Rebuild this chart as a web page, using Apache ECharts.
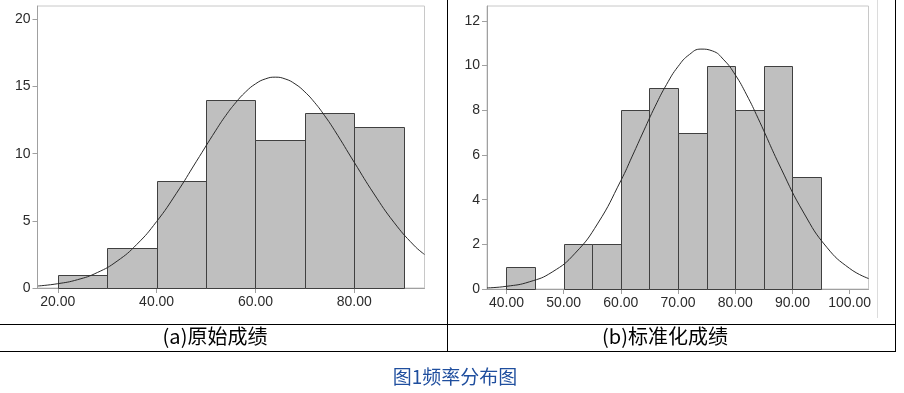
<!DOCTYPE html>
<html><head><meta charset="utf-8">
<script src="https://cdn.jsdelivr.net/npm/echarts@6/dist/echarts.min.js"></script>
<style>html,body{margin:0;padding:0;background:#fff}#c{width:904px;height:393px}</style>
</head><body><div id="c"></div>
<script>
// ---- Data ----
// (a) raw scores
const binStartsA = [20, 30, 40, 50, 60, 70, 80];
const countsA = [1, 3, 8, 14, 11, 13, 12];
const binWidthA = 10;
const curveXA = [16, 20, 24, 28, 32, 36, 40, 44, 48, 52, 54, 56, 58, 60, 62, 64, 66, 68, 70, 72, 74, 76, 80, 84, 88, 92, 94.2];
const curveYA = [0.15, 0.32, 0.62, 1.15, 2.0, 3.25, 4.95, 7.05, 9.4, 11.75, 12.85, 13.8, 14.6, 15.2, 15.57, 15.7, 15.57, 15.2, 14.6, 13.8, 12.83, 11.74, 9.35, 7.0, 4.9, 3.2, 2.5];
const xTicksA = [20, 40, 60, 80];
const yTicksA = [0, 5, 10, 15, 20];
// (b) standardized scores
const binStartsB = [40, 45, 50, 55, 60, 65, 70, 75, 80, 85, 90];
const countsB = [1, 0, 2, 2, 8, 9, 7, 10, 8, 10, 5];
const binWidthB = 5;
const curveXB = [36.6, 40, 44, 48, 52, 56, 60, 62, 64, 66, 68, 70, 72, 74, 76, 78, 80, 82, 84, 88, 92, 96, 100, 103.3];
const curveYB = [0.05, 0.12, 0.32, 0.76, 1.6, 2.95, 4.85, 5.95, 7.08, 8.18, 9.16, 9.96, 10.5, 10.74, 10.66, 10.26, 9.59, 8.69, 7.64, 5.4, 3.4, 1.87, 0.92, 0.47];
const xTicksB = [40, 50, 60, 70, 80, 90, 100];
const yTicksB = [0, 2, 4, 6, 8, 10, 12];
// texts
const captionA = '(a)原始成绩';
const captionB = '(b)标准化成绩';
const figTitle = '图1频率分布图';

// ---- Build ----
function bars(starts, counts, w) {
  return starts.map((s, i) => [s, s + w, counts[i]]);
}
function pairs(xs, ys) { return xs.map((x, i) => [x, ys[i]]); }

function renderBar(params, api) {
  const x0 = api.value(0), x1 = api.value(1), y = api.value(2);
  if (y <= 0) return null;
  const p0 = api.coord([x0, y]);
  const p1 = api.coord([x1, 0]);
  const l = Math.round(p0[0]) + 0.5, r = Math.round(p1[0]) + 0.5;
  const t = Math.round(p0[1]) + 0.5, b = Math.round(p1[1]) + 0.5;
  return {
    type: 'rect',
    shape: { x: l, y: t, width: r - l, height: b - t },
    style: { fill: '#bfbfbf', stroke: '#404040', lineWidth: 1 }
  };
}

const font = '"Liberation Sans", Arial, sans-serif';
function xAxis(idx, min, max, ticks) {
  return {
    gridIndex: idx, type: 'value', min: min, max: max,
    axisLine: { show: true, onZero: false, lineStyle: { color: '#a0a0a0', width: 1 } },
    axisTick: { show: true, length: 5, customValues: ticks, lineStyle: { color: '#a0a0a0' } },
    axisLabel: { customValues: ticks, formatter: v => v.toFixed(2), color: '#2b2b2b', fontSize: 14, fontFamily: font, margin: 7 },
    splitLine: { show: false }
  };
}
function yAxis(idx, max, ticks) {
  return {
    gridIndex: idx, type: 'value', min: 0, max: max,
    axisLine: { show: true, lineStyle: { color: '#a0a0a0', width: 1 } },
    axisTick: { show: true, length: 5, customValues: ticks, lineStyle: { color: '#a0a0a0' } },
    axisLabel: { customValues: ticks, color: '#2b2b2b', fontSize: 14, fontFamily: font, margin: 7 },
    splitLine: { show: false }
  };
}

const chart = echarts.init(document.getElementById('c'));
chart.setOption({
  animation: false,
  backgroundColor: '#fff',
  grid: [
    { left: 37.5, top: 6, width: 387, height: 282, show: true, borderColor: '#c8c8c8', borderWidth: 1, backgroundColor: 'transparent' },
    { left: 487, top: 6, width: 381.5, height: 283, show: true, borderColor: '#c8c8c8', borderWidth: 1, backgroundColor: 'transparent' }
  ],
  xAxis: [xAxis(0, 15.9, 94.2, xTicksA), xAxis(1, 36.6, 103.3, xTicksB)],
  yAxis: [yAxis(0, 21, yTicksA), yAxis(1, 12.67, yTicksB)],
  series: [
    { type: 'custom', xAxisIndex: 0, yAxisIndex: 0, renderItem: renderBar, data: bars(binStartsA, countsA, binWidthA), encode: { x: [0, 1], y: 2 }, silent: true },
    { type: 'line', xAxisIndex: 0, yAxisIndex: 0, data: pairs(curveXA, curveYA), smooth: true, symbol: 'none', lineStyle: { color: '#2a2a2a', width: 1 }, silent: true, z: 5 },
    { type: 'custom', xAxisIndex: 1, yAxisIndex: 1, renderItem: renderBar, data: bars(binStartsB, countsB, binWidthB), encode: { x: [0, 1], y: 2 }, silent: true },
    { type: 'line', xAxisIndex: 1, yAxisIndex: 1, data: pairs(curveXB, curveYB), smooth: true, symbol: 'none', lineStyle: { color: '#2a2a2a', width: 1 }, silent: true, z: 5 }
  ],
  graphic: [
    { type: 'line', shape: { x1: 0, y1: 324.5, x2: 896, y2: 324.5 }, style: { stroke: '#000', lineWidth: 1 } },
    { type: 'line', shape: { x1: 0, y1: 351.5, x2: 896, y2: 351.5 }, style: { stroke: '#000', lineWidth: 1 } },
    { type: 'line', shape: { x1: 447.5, y1: 0, x2: 447.5, y2: 351.5 }, style: { stroke: '#000', lineWidth: 1 } },
    { type: 'line', shape: { x1: 895.5, y1: 0, x2: 895.5, y2: 351.5 }, style: { stroke: '#000', lineWidth: 1 } },
    { type: 'line', shape: { x1: 877.5, y1: 0, x2: 877.5, y2: 318 }, style: { stroke: '#dcdcdc', lineWidth: 1 } },
    { type: 'text', x: 215, y: 336.5, style: { text: captionA, fill: '#000', font: '20px "Noto Sans CJK SC", sans-serif', textAlign: 'center', textVerticalAlign: 'middle' } },
    { type: 'text', x: 665, y: 336.5, style: { text: captionB, fill: '#000', font: '20px "Noto Sans CJK SC", sans-serif', textAlign: 'center', textVerticalAlign: 'middle' } },
    { type: 'text', x: 455, y: 377, style: { text: figTitle, fill: '#1f4e9e', font: '19px "Noto Sans CJK SC", sans-serif', textAlign: 'center', textVerticalAlign: 'middle' } }
  ]
});
</script></body></html>
